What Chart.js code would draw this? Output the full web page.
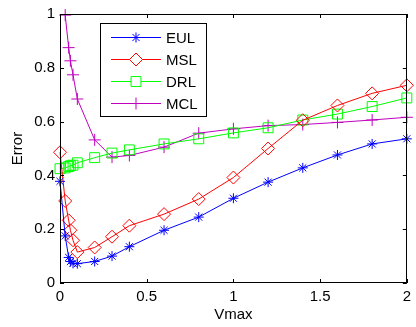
<!DOCTYPE html>
<html>
<head>
<meta charset="utf-8">
<script src="https://cdn.jsdelivr.net/npm/chart.js@4.4.0/dist/chart.umd.min.js"></script>
<style>
  html, body { margin: 0; padding: 0; background: #fff; }
  #wrap { width: 416px; height: 327px; }
</style>
</head>
<body>
<div id="wrap"><canvas id="cvs_erro"></canvas></div>
<script>
// valores
const vmax = [0, 0.03, 0.05, 0.06, 0.075, 0.1, 0.2, 0.3, 0.4, 0.6, 0.8, 1, 1.2, 1.4, 1.6, 1.8, 2];
const eul = [0.378, 0.175, 0.095, 0.08, 0.073, 0.072, 0.08, 0.10, 0.135, 0.196, 0.245, 0.315, 0.375, 0.428, 0.476, 0.517, 0.536];
const msl = [0.486, 0.305, 0.233, 0.196, 0.159, 0.115, 0.132, 0.172, 0.213, 0.256, 0.312, 0.392, 0.5, 0.605, 0.66, 0.705, 0.735];
const drl = [0.425, 0.428, 0.433, 0.436, 0.438, 0.447, 0.466, 0.483, 0.495, 0.517, 0.536, 0.558, 0.577, 0.606, 0.628, 0.656, 0.688];
const mcl = [null, 0.996, 0.875, 0.826, 0.774, 0.684, 0.532, 0.468, 0.474, 0.505, 0.557, 0.573, 0.585, 0.589, 0.597, 0.606, 0.616];
const xTicks = [0, 0.5, 1, 1.5, 2];
const yTicks = [0, 0.2, 0.4, 0.6, 0.8, 1];
const nomes = ["EUL", "MSL", "DRL", "MCL"];

const FONTE = "'Liberation Sans', Arial, Helvetica, sans-serif";

function pares(serie) {
    var pts = [];
    for (var i = 0; i < vmax.length; i++) {
        if (serie[i] !== null) pts.push({ x: vmax[i], y: serie[i] });
    }
    return pts;
}

function serie(nome, dados, cor, estilo, raio) {
    return {
        label: nome,
        data: pares(dados),
        borderColor: cor,
        borderWidth: 1,
        pointStyle: estilo,
        pointRadius: raio,
        pointHoverRadius: raio,
        pointBorderColor: cor,
        pointBackgroundColor: "rgba(0,0,0,0)",
        pointBorderWidth: 1,
        tension: 0,
        fill: false,
        clip: false,
    };
}

// caixa dos eixos com marcas para dentro (estilo matlab) + legenda
const caixaPlugin = {
    id: "caixa",
    afterDatasetsDraw(chart) {
        const { ctx, chartArea: a, scales: { x, y } } = chart;
        ctx.save();
        ctx.strokeStyle = "#000";
        ctx.lineWidth = 1;
        ctx.strokeRect(Math.round(a.left) + 0.5, Math.round(a.top) + 0.5,
            Math.round(a.right - a.left) - 1, Math.round(a.bottom - a.top) - 1);
        ctx.beginPath();
        xTicks.forEach(v => {
            const px = Math.round(x.getPixelForValue(v)) + 0.5;
            ctx.moveTo(px, a.bottom); ctx.lineTo(px, a.bottom - 4);
            ctx.moveTo(px, a.top); ctx.lineTo(px, a.top + 4);
        });
        yTicks.forEach(v => {
            const py = Math.round(y.getPixelForValue(v)) + 0.5;
            ctx.moveTo(a.left, py); ctx.lineTo(a.left + 4, py);
            ctx.moveTo(a.right, py); ctx.lineTo(a.right - 4, py);
        });
        ctx.stroke();

        // legenda
        const bx = 100.5, by = 23.5, bw = 106, bh = 93;
        ctx.fillStyle = "#fff";
        ctx.fillRect(bx, by, bw, bh);
        ctx.strokeRect(bx, by, bw, bh);
        ctx.font = "15px " + FONTE;
        ctx.textBaseline = "middle";
        ctx.textAlign = "left";
        chart.data.datasets.forEach((ds, i) => {
            const ly = 37.5 + i * 22;
            ctx.strokeStyle = ds.borderColor;
            ctx.beginPath();
            ctx.moveTo(111, ly); ctx.lineTo(161, ly);
            ctx.stroke();
            Chart.helpers.drawPoint(ctx, {
                pointStyle: ds.pointStyle, radius: ds.pointRadius, rotation: 0,
                borderWidth: 1
            }, 136, ly);
            ctx.fillStyle = "#000";
            ctx.fillText(ds.label, 166, ly + 1);
            ctx.fillStyle = "#fff";
        });
        ctx.restore();
    },
};

new Chart(document.getElementById("cvs_erro"), {
    type: "line",
    data: {
        datasets: [
            serie(nomes[0], eul, "#0000ff", "star", 5),
            serie(nomes[1], msl, "#ff0000", "rectRot", 6.5),
            serie(nomes[2], drl, "#00ff00", "rect", 7),
            serie(nomes[3], mcl, "#bf00bf", "cross", 6),
        ],
    },
    options: {
        responsive: true,
        maintainAspectRatio: false,
        animation: false,
        devicePixelRatio: 1,
        layout: { padding: { top: 13, right: 5, left: 0, bottom: 0 } },
        plugins: {
            legend: { display: false },
            tooltip: { enabled: false },
        },
        scales: {
            x: {
                type: "linear",
                min: 0,
                max: 2,
                afterFit(scale) { scale.height = 44; },
                afterBuildTicks(scale) { scale.ticks = xTicks.map(v => ({ value: v })); },
                grid: { display: false, drawTicks: false },
                border: { display: false },
                ticks: {
                    padding: 5,
                    color: "#000",
                    maxRotation: 0,
                    font: { size: 15, family: FONTE },
                    callback: v => String(v),
                },
                title: {
                    display: true,
                    text: "Vmax",
                    color: "#000",
                    padding: { top: 0, bottom: 3 },
                    font: { size: 15, family: FONTE },
                },
            },
            y: {
                min: 0,
                max: 1,
                afterFit(scale) { scale.width = 60; },
                afterBuildTicks(scale) { scale.ticks = yTicks.map(v => ({ value: v })); },
                grid: { display: false, drawTicks: false },
                border: { display: false },
                ticks: {
                    padding: 5,
                    color: "#000",
                    font: { size: 15, family: FONTE },
                    callback: v => String(v),
                },
                title: {
                    display: true,
                    text: "Error",
                    color: "#000",
                    padding: { top: 9, bottom: 0 },
                    font: { size: 15, family: FONTE },
                },
            },
        },
    },
    plugins: [caixaPlugin],
});
</script>
</body>
</html>
